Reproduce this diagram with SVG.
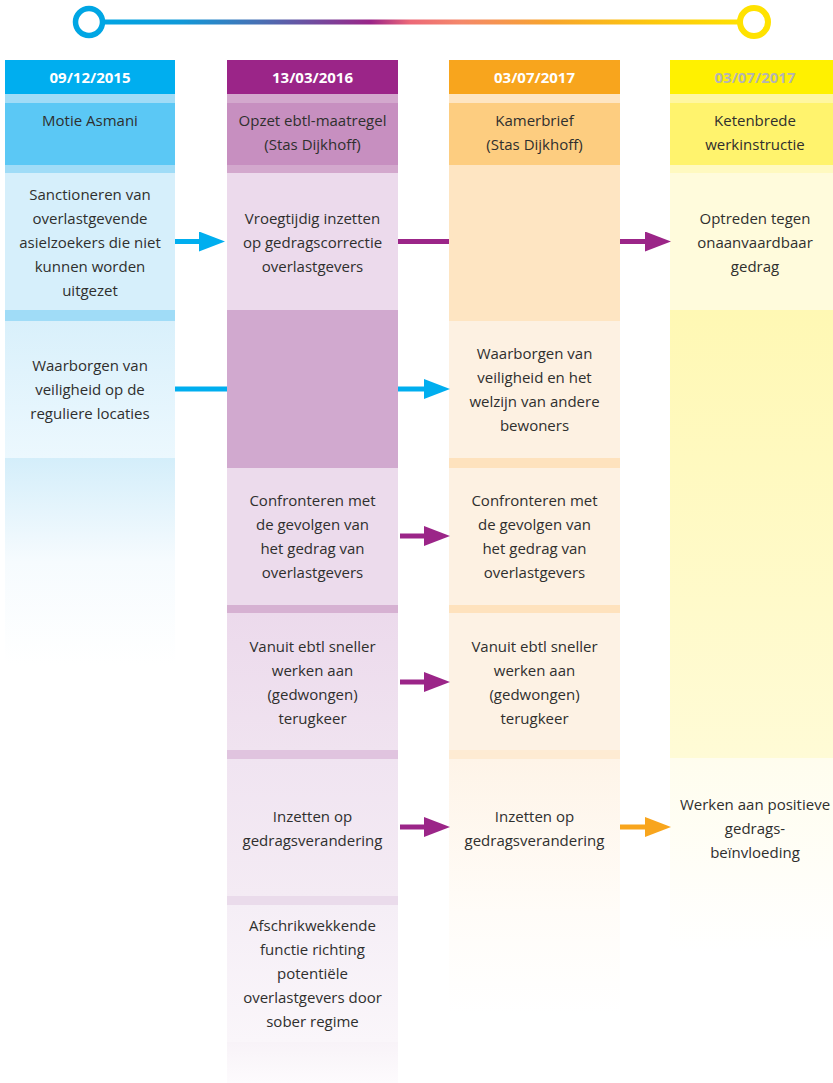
<svg xmlns="http://www.w3.org/2000/svg" width="833" height="1083" viewBox="0 0 833 1083">
<style>
.t{font-family:"Open Sans","Liberation Sans",sans-serif;font-size:15px;fill:#2f2f2e;text-anchor:middle}
.h{font-family:"Open Sans","Liberation Sans",sans-serif;font-size:15px;font-weight:bold;fill:#ffffff;text-anchor:middle}
.sb{stroke:#00aeef;stroke-width:5;fill:none}
.sp{stroke:#9b2588;stroke-width:5;fill:none}
.so{stroke:#f8a51d;stroke-width:5;fill:none}
</style>
<defs>
<linearGradient id="tl" gradientUnits="userSpaceOnUse" x1="100" y1="0" x2="745" y2="0">
<stop offset="0" stop-color="#00a6e4"/>
<stop offset="0.12" stop-color="#0f9ad9"/>
<stop offset="0.25" stop-color="#4a6fb3"/>
<stop offset="0.42" stop-color="#9b2588"/>
<stop offset="0.48" stop-color="#ec6878"/>
<stop offset="0.56" stop-color="#f4886a"/>
<stop offset="0.70" stop-color="#f7a52c"/>
<stop offset="0.85" stop-color="#fcc60f"/>
<stop offset="1" stop-color="#ffe200"/>
</linearGradient>
<linearGradient id="g1a" x1="0" y1="0" x2="0" y2="1"><stop offset="0" stop-color="#d9f0fb"/><stop offset="1" stop-color="#ecf8fe"/></linearGradient>
<linearGradient id="g1b" x1="0" y1="0" x2="0" y2="1"><stop offset="0" stop-color="#d4eefa"/><stop offset="0.5" stop-color="#f6fbfe"/><stop offset="1" stop-color="#ffffff"/></linearGradient>
<linearGradient id="g2a" x1="0" y1="0" x2="0" y2="1"><stop offset="0" stop-color="#ecdaec"/><stop offset="1" stop-color="#f0e3f0"/></linearGradient>
<linearGradient id="g2b" x1="0" y1="0" x2="0" y2="1"><stop offset="0" stop-color="#f0e4f1"/><stop offset="1" stop-color="#f4ebf4"/></linearGradient>
<linearGradient id="g2c" x1="0" y1="0" x2="0" y2="1"><stop offset="0" stop-color="#f5eef6"/><stop offset="1" stop-color="#faf6fa"/></linearGradient>
<linearGradient id="g2d" x1="0" y1="0" x2="0" y2="1"><stop offset="0" stop-color="#f8f3f8"/><stop offset="1" stop-color="#fdfbfd"/></linearGradient>
<linearGradient id="g3a" x1="0" y1="0" x2="0" y2="1"><stop offset="0" stop-color="#fef4e8"/><stop offset="0.6" stop-color="#fffcf8"/><stop offset="1" stop-color="#ffffff"/></linearGradient>
<linearGradient id="g4a" x1="0" y1="0" x2="0" y2="1"><stop offset="0" stop-color="#fff8b4"/><stop offset="1" stop-color="#fffbd6"/></linearGradient>
<linearGradient id="g4b" x1="0" y1="0" x2="0" y2="1"><stop offset="0" stop-color="#fffdee"/><stop offset="0.6" stop-color="#fffef8"/><stop offset="1" stop-color="#ffffff"/></linearGradient>
<marker id="ab" markerUnits="userSpaceOnUse" markerWidth="26" markerHeight="20" viewBox="0 0 26 20" refX="0" refY="10" orient="auto"><path d="M0,0 L26,10 L0,20 z" fill="#00aeef"/></marker>
<marker id="ap" markerUnits="userSpaceOnUse" markerWidth="26" markerHeight="20" viewBox="0 0 26 20" refX="0" refY="10" orient="auto"><path d="M0,0 L26,10 L0,20 z" fill="#9b2588"/></marker>
<marker id="ao" markerUnits="userSpaceOnUse" markerWidth="26" markerHeight="20" viewBox="0 0 26 20" refX="0" refY="10" orient="auto"><path d="M0,0 L26,10 L0,20 z" fill="#f8a51d"/></marker>
</defs>
<rect width="833" height="1083" fill="#ffffff"/>

<g id="timeline">
<line x1="102" y1="22" x2="741" y2="22" stroke="url(#tl)" stroke-width="5"/>
<circle cx="89" cy="22" r="13.5" fill="#ffffff" stroke="#00a6e4" stroke-width="5.5"/>
<circle cx="754" cy="22" r="14" fill="#ffffff" stroke="#ffe200" stroke-width="6"/>
</g>

<g id="col1">
<rect x="5" y="94" width="170" height="9" fill="#a0dcf7"/>
<rect x="5" y="165" width="170" height="8" fill="#a0dcf7"/>
<rect x="5" y="310" width="170" height="11" fill="#a0dcf7"/>
<rect x="5" y="458" width="170" height="207" fill="url(#g1b)"/>
</g>
<g id="h1"><rect x="5" y="60" width="170" height="34" fill="#00aeef"/><text class="h" x="90" y="83">09/12/2015</text></g>
<g id="n1"><rect x="5" y="103" width="170" height="62" fill="#5bc8f5"/><text class="t" x="90" y="126">Motie Asmani</text></g>
<g id="n1a"><rect x="5" y="173" width="170" height="137" fill="#d6effb"/>
<text class="t" x="90" y="200">Sanctioneren van</text>
<text class="t" x="90" y="224">overlastgevende</text>
<text class="t" x="90" y="248">asielzoekers die niet</text>
<text class="t" x="90" y="272">kunnen worden</text>
<text class="t" x="90" y="296">uitgezet</text></g>
<g id="n1b"><rect x="5" y="321" width="170" height="137" fill="url(#g1a)"/>
<text class="t" x="90" y="371">Waarborgen van</text>
<text class="t" x="90" y="395">veiligheid op de</text>
<text class="t" x="90" y="419">reguliere locaties</text></g>

<g id="col2">
<rect x="227" y="94" width="171" height="9" fill="#d3a8cd"/>
<rect x="227" y="165" width="171" height="8" fill="#d3a8cd"/>
<rect x="227" y="310" width="171" height="158" fill="#d1a9cf"/>
<rect x="227" y="605" width="171" height="8" fill="#d6b1d2"/>
<rect x="227" y="750" width="171" height="9" fill="#e0c4df"/>
<rect x="227" y="896" width="171" height="9" fill="#eadbeb"/>
<rect x="227" y="1042" width="171" height="41" fill="url(#g2d)"/>
</g>
<g id="h2"><rect x="227" y="60" width="171" height="34" fill="#9b2588"/><text class="h" x="312.5" y="83">13/03/2016</text></g>
<g id="n2"><rect x="227" y="103" width="171" height="62" fill="#c78fc0"/>
<text class="t" x="312.5" y="126">Opzet ebtl-maatregel</text>
<text class="t" x="312.5" y="150">(Stas Dijkhoff)</text></g>
<g id="n2a"><rect x="227" y="173" width="171" height="137" fill="#ecdaec"/>
<text class="t" x="312.5" y="224">Vroegtijdig inzetten</text>
<text class="t" x="312.5" y="248">op gedragscorrectie</text>
<text class="t" x="312.5" y="272">overlastgevers</text></g>
<g id="n2b"><rect x="227" y="468" width="171" height="137" fill="#ecdbec"/>
<text class="t" x="312.5" y="506">Confronteren met</text>
<text class="t" x="312.5" y="530">de gevolgen van</text>
<text class="t" x="312.5" y="554">het gedrag van</text>
<text class="t" x="312.5" y="578">overlastgevers</text></g>
<g id="n2c"><rect x="227" y="613" width="171" height="137" fill="url(#g2a)"/>
<text class="t" x="312.5" y="652">Vanuit ebtl sneller</text>
<text class="t" x="312.5" y="676">werken aan</text>
<text class="t" x="312.5" y="700">(gedwongen)</text>
<text class="t" x="312.5" y="724">terugkeer</text></g>
<g id="n2d"><rect x="227" y="759" width="171" height="137" fill="url(#g2b)"/>
<text class="t" x="312.5" y="822">Inzetten op</text>
<text class="t" x="312.5" y="846">gedragsverandering</text></g>
<g id="n2e"><rect x="227" y="905" width="171" height="137" fill="url(#g2c)"/>
<text class="t" x="312.5" y="931">Afschrikwekkende</text>
<text class="t" x="312.5" y="955">functie richting</text>
<text class="t" x="312.5" y="979">potentiële</text>
<text class="t" x="312.5" y="1003">overlastgevers door</text>
<text class="t" x="312.5" y="1027">sober regime</text></g>

<g id="col3">
<rect x="449" y="94" width="171" height="9" fill="#fee5c2"/>
<rect x="449" y="165" width="171" height="156" fill="#fee5c2"/>
<rect x="449" y="458" width="171" height="10" fill="#fee2bd"/>
<rect x="449" y="605" width="171" height="8" fill="#fee2bd"/>
<rect x="449" y="750" width="171" height="9" fill="#feebd3"/>
</g>
<g id="h3"><rect x="449" y="60" width="171" height="34" fill="#f8a51d"/><text class="h" x="534.5" y="83">03/07/2017</text></g>
<g id="n3"><rect x="449" y="103" width="171" height="62" fill="#fdcd80"/>
<text class="t" x="534.5" y="126">Kamerbrief</text>
<text class="t" x="534.5" y="150">(Stas Dijkhoff)</text></g>
<g id="n3a"><rect x="449" y="321" width="171" height="137" fill="#fdf1e2"/>
<text class="t" x="534.5" y="359">Waarborgen van</text>
<text class="t" x="534.5" y="383">veiligheid en het</text>
<text class="t" x="534.5" y="407">welzijn van andere</text>
<text class="t" x="534.5" y="431">bewoners</text></g>
<g id="n3b"><rect x="449" y="468" width="171" height="137" fill="#fdf1e2"/>
<text class="t" x="534.5" y="506">Confronteren met</text>
<text class="t" x="534.5" y="530">de gevolgen van</text>
<text class="t" x="534.5" y="554">het gedrag van</text>
<text class="t" x="534.5" y="578">overlastgevers</text></g>
<g id="n3c"><rect x="449" y="613" width="171" height="137" fill="#fdf2e4"/>
<text class="t" x="534.5" y="652">Vanuit ebtl sneller</text>
<text class="t" x="534.5" y="676">werken aan</text>
<text class="t" x="534.5" y="700">(gedwongen)</text>
<text class="t" x="534.5" y="724">terugkeer</text></g>
<g id="n3d"><rect x="449" y="759" width="171" height="255" fill="url(#g3a)"/>
<text class="t" x="534.5" y="822">Inzetten op</text>
<text class="t" x="534.5" y="846">gedragsverandering</text></g>

<g id="col4">
<rect x="670" y="94" width="163" height="9" fill="#fff7a1"/>
<rect x="670" y="165" width="163" height="8" fill="#fff9c0"/>
<rect x="670" y="310" width="163" height="448" fill="url(#g4a)"/>
</g>
<g id="h4"><rect x="670" y="60" width="163" height="34" fill="#fff100"/><text class="h" x="755" y="83" style="fill:#b5b5b0">03/07/2017</text></g>
<g id="n4"><rect x="670" y="103" width="163" height="62" fill="#fff36d"/>
<text class="t" x="755" y="126">Ketenbrede</text>
<text class="t" x="755" y="150">werkinstructie</text></g>
<g id="n4a"><rect x="670" y="173" width="163" height="137" fill="#fffbdc"/>
<text class="t" x="755" y="224">Optreden tegen</text>
<text class="t" x="755" y="248">onaanvaardbaar</text>
<text class="t" x="755" y="272">gedrag</text></g>
<g id="n4b"><rect x="670" y="758" width="163" height="195" fill="url(#g4b)"/>
<text class="t" x="755" y="810">Werken aan positieve</text>
<text class="t" x="755" y="834">gedrags-</text>
<text class="t" x="755" y="858">beïnvloeding</text></g>

<g id="connectors">
<path class="sb" d="M175,241.5 H199" marker-end="url(#ab)"/>
<path class="sp" d="M398,241.5 H449"/>
<path class="sp" d="M620,241.5 H645" marker-end="url(#ap)"/>
<path class="sb" d="M175,389 H227"/>
<path class="sb" d="M398,389 H424" marker-end="url(#ab)"/>
<path class="sp" d="M400,536 H424" marker-end="url(#ap)"/>
<path class="sp" d="M400,682 H424" marker-end="url(#ap)"/>
<path class="sp" d="M400,827 H424" marker-end="url(#ap)"/>
<path class="so" d="M620,827 H645" marker-end="url(#ao)"/>
</g>
</svg>
